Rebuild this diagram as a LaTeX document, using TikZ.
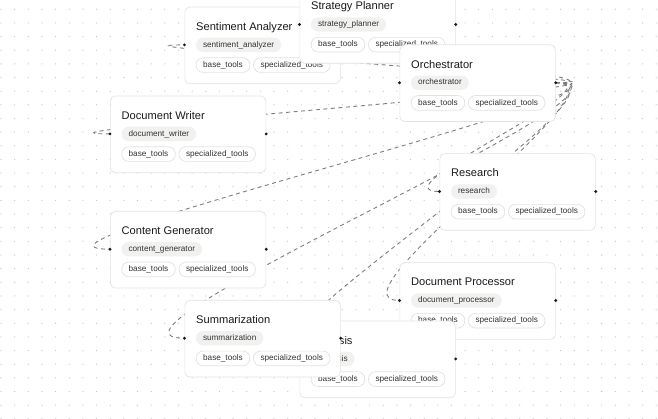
\documentclass[tikz,border=0pt]{standalone}
\usepackage{fontspec}
\setmainfont{Liberation Sans}
\usetikzlibrary{calc}
\definecolor{cardline}{HTML}{E3E3E3}
\definecolor{titlecol}{HTML}{1A1A1A}
\definecolor{pilltext}{HTML}{333333}
\definecolor{idfill}{HTML}{F1F1F0}
\definecolor{toolline}{HTML}{E2E2E2}
\definecolor{edgecol}{HTML}{7E7E7E}
\definecolor{dotcol}{HTML}{C6C6C6}
\definecolor{handlecol}{HTML}{1A192B}
\pgfdeclarelayer{gridlayer}
\pgfdeclarelayer{edgelayer}
\pgfsetlayers{gridlayer,edgelayer,main}
\tikzset{
  cardbox/.style={draw=cardline, fill=white, rounded corners=5pt, line width=0.7pt,
    minimum width=155.5pt, minimum height=76.7pt, inner sep=0pt, anchor=north west},
  titletext/.style={anchor=base west, inner sep=0pt, text=titlecol,
    font=\fontsize{11.1}{13}\selectfont},
  pillbase/.style={anchor=west, rounded corners=7pt, inner xsep=7pt, inner ysep=0pt,
    text height=6pt, text depth=1.6pt, text=pilltext, font=\fontsize{8.2}{10}\selectfont},
  idpill/.style={pillbase, fill=idfill, minimum height=14.3pt},
  toolpill/.style={pillbase, draw=toolline, fill=white, line width=0.7pt, minimum height=14.6pt},
  handledot/.style={fill=handlecol},
  flowedge/.style={draw=edgecol, line width=0.9pt, dash pattern=on 4pt off 3.5pt},
  griddot/.style={fill=dotcol}
}
\newcommand\flowcard[5]{%
  \node[cardbox] (#1) at (#2,#3) {};
  \node[titletext] (#1-title) at ($(#1.north west)+(11.5,23.6)$) {#4};
  \node[idpill] (#1-id) at ($(#1.north west)+(11.3,38.2)$) {#5};
  \node[toolpill] (#1-base) at ($(#1.north west)+(11.3,58.4)$) {base\_tools};
  \node[toolpill] (#1-spec) at ($(#1-base.east)+(3,0)$) {specialized\_tools};
  \coordinate (#1-in) at ($(#1.north west)+(0,38.2)$);
  \coordinate (#1-out) at ($(#1.north east)+(0,38.2)$);
  \fill[handledot] (#1-in) circle[radius=1.6pt];
  \fill[handledot] (#1-out) circle[radius=1.6pt];
}
\begin{document}
\begin{tikzpicture}[x=1pt, y=-1pt]
\useasboundingbox (0,0) rectangle (658,419);
\clip (0,0) rectangle (658,419);
\begin{pgfonlayer}{gridlayer}
  \fill[white] (0,0) rectangle (658,419);
  \foreach \i in {0,...,48}{
    \foreach \j in {0,...,30}{
      \fill[griddot] ({1+13.65*\i},{9.3+13.65*\j}) circle[radius=0.65pt];
    }
  }
\end{pgfonlayer}

\flowcard{sa}{184.5}{6.7}{Sentiment Analyzer}{sentiment\_analyzer}
\flowcard{sp}{299.5}{-13.7}{Strategy Planner}{strategy\_planner}
\flowcard{orch}{399.5}{44.5}{Orchestrator}{orchestrator}
\flowcard{dw}{110}{95.7}{Document Writer}{document\_writer}
\flowcard{re}{439.5}{153.3}{Research}{research}
\flowcard{cg}{110}{211}{Content Generator}{content\_generator}
\flowcard{dp}{399.5}{262.3}{Document Processor}{document\_processor}
\flowcard{an}{299.5}{320.7}{Analysis}{analysis}
\flowcard{su}{184.5}{300}{Summarization}{summarization}

\begin{pgfonlayer}{edgelayer}
  \foreach \t/\o in {sa/120.4, sp/100, dw/131.9, re/67.3, cg/131.9, dp/78.1, su/120.4, an/100}{
    \draw[flowedge] (orch-out) .. controls +(\o,0) and +(-\o,0) .. (\t-in);
  }
\end{pgfonlayer}
\end{tikzpicture}
\end{document}
